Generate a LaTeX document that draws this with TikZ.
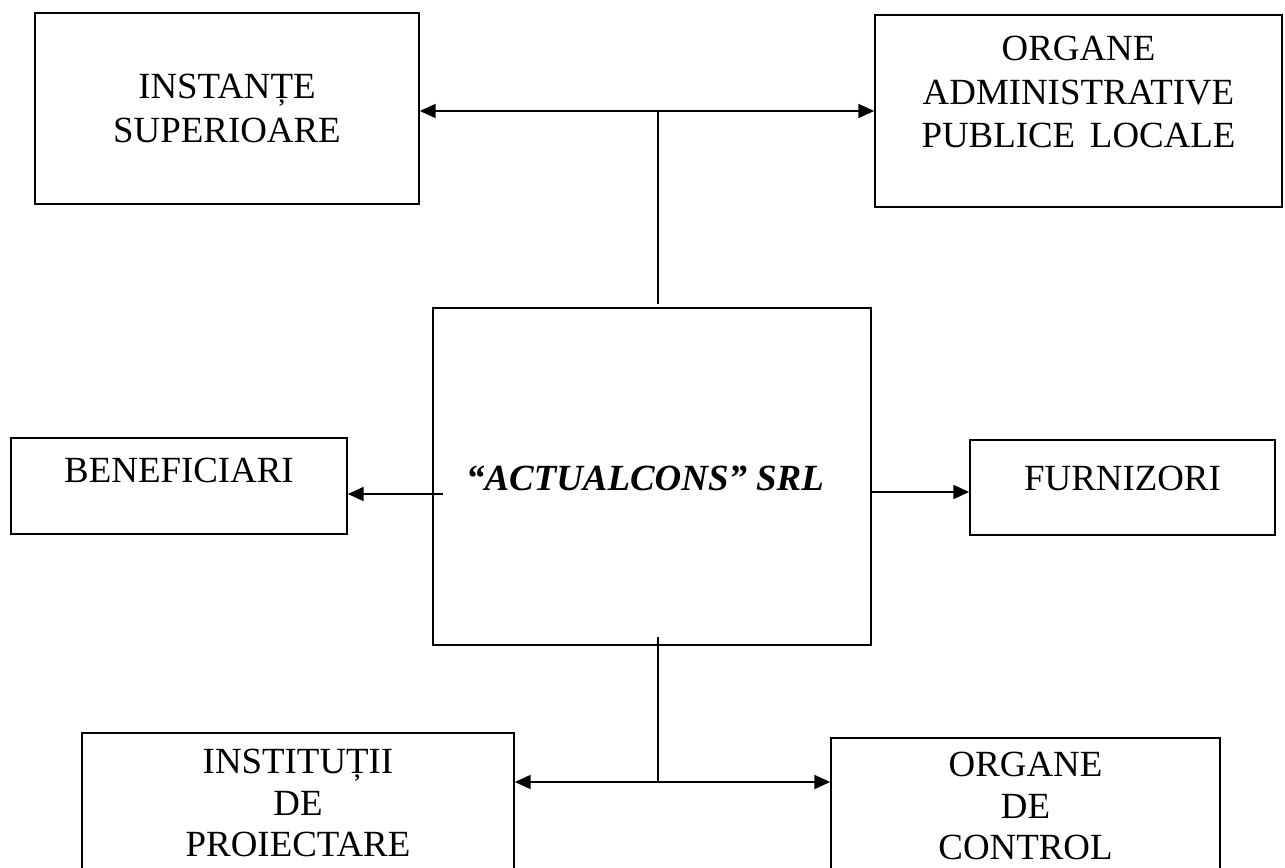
\documentclass[tikz,border=0pt]{standalone}
\usepackage{fontspec}
\setmainfont{Liberation Serif}
\usetikzlibrary{arrows.meta}
\tikzset{
    caseta/.style={draw, line width=1pt, rectangle, inner sep=0pt},
    eticheta/.style={align=center, font=\fontsize{21}{25}\selectfont},
    sageata/.style={line width=0.9pt, -{Triangle[length=9pt,width=8pt]}},
    dublu/.style={line width=0.9pt, {Triangle[length=9pt,width=8pt]}-{Triangle[length=9pt,width=8pt]}}
}
\begin{document}
\begin{tikzpicture}[x=0.02cm, y=-0.02cm]
    \clip (0,0) rectangle (1285,868);
    % sus
    \node[caseta, eticheta, minimum width=7.68cm, minimum height=3.82cm] (inst) at (227,108.5) {INSTANȚE\\SUPERIOARE};
    \node[caseta, minimum width=8.14cm, minimum height=3.84cm] (adm) at (1078.5,111) {};
    \node[eticheta] (admtxt) at (1078.5,92) {ORGANE\\ADMINISTRATIVE\\PUBLICE\hspace{0.4em}LOCALE};
    % centru
    \node[caseta, minimum width=8.76cm, minimum height=6.74cm] (firma) at (652,476.5) {};
    \node[eticheta, font=\fontsize{21}{25}\selectfont\bfseries\itshape] (firmatxt) at (645,478) {“ACTUALCONS” SRL};
    \node[caseta, minimum width=6.72cm, minimum height=1.92cm] (benef) at (179,486) {};
    \node[eticheta] (beneftxt) at (179,470) {BENEFICIARI};
    \node[caseta, minimum width=6.1cm, minimum height=1.9cm] (furn) at (1122.5,487.5) {};
    \node[eticheta] (furntxt) at (1122.5,478) {FURNIZORI};
    % jos
    \node[caseta, minimum width=8.64cm, minimum height=4.34cm] (proi) at (298,841.5) {};
    \node[eticheta, font=\fontsize{21}{23.5}\selectfont] (proitxt) at (298,803) {INSTITUȚII\\DE\\PROIECTARE};
    \node[caseta, minimum width=7.78cm, minimum height=4.24cm] (ctrl) at (1025.5,844) {};
    \node[eticheta, font=\fontsize{21}{23.5}\selectfont] (ctrltxt) at (1025.5,806) {ORGANE\\DE\\CONTROL};
    % legaturi
    \coordinate (sus) at (658,111);
    \coordinate (jos) at (658,782);
    \coordinate (st) at (443,494);
    \coordinate (dr) at (871,492);
    \coordinate (josstart) at (658,637);
    \draw[dublu] (inst.east |- sus) -- (adm.west |- sus);
    \draw[line width=0.9pt] (sus) -- ([yshift=2pt]firma.north -| sus);
    \draw[sageata] (st) -- (st -| benef.east);
    \draw[sageata] (dr) -- (dr -| furn.west);
    \draw[line width=0.9pt] (josstart) -- (jos);
    \draw[dublu] (proi.east |- jos) -- (ctrl.west |- jos);
\end{tikzpicture}
\end{document}
